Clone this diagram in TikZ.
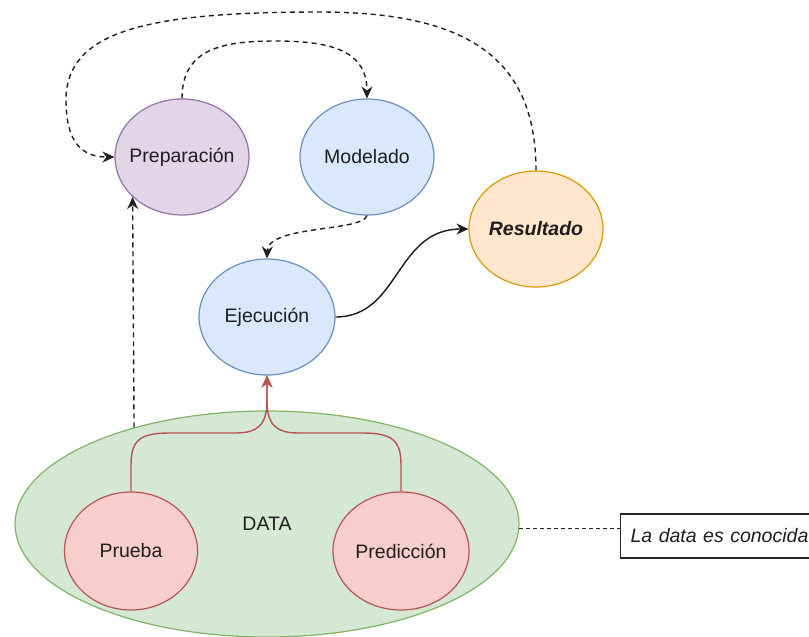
\documentclass[tikz,border=0pt]{standalone}
\usepackage{fontspec}
\setmainfont{Liberation Sans}
\usetikzlibrary{arrows.meta,shapes.geometric}

\definecolor{prepFill}{HTML}{E1D5E7}
\definecolor{prepLine}{HTML}{9673A6}
\definecolor{blueFill}{HTML}{DAE8FC}
\definecolor{blueLine}{HTML}{6C8EBF}
\definecolor{orangeFill}{HTML}{FFE6CC}
\definecolor{orangeLine}{HTML}{D79B00}
\definecolor{greenFill}{HTML}{D5E8D4}
\definecolor{greenLine}{HTML}{82B366}
\definecolor{redFill}{HTML}{F8CECC}
\definecolor{redLine}{HTML}{B85450}
\definecolor{txt}{HTML}{1E1E1E}

% zero-width label so the ellipse keeps its given size
\newcommand{\zerowidth}[1]{\makebox[0pt][c]{#1}}

\begin{document}
\begin{tikzpicture}[x=1pt, y=-1pt,
  font=\fontsize{19.5}{23}\selectfont,
  bubble/.style={ellipse, minimum width=134pt, minimum height=116pt,
    inner sep=0pt, line width=1.2pt, text=txt},
  tip/.style={-{Stealth[length=12pt, width=11pt, inset=4pt]}},
  dashedge/.style={tip, line width=1.4pt, dash pattern=on 5pt off 4pt, draw=black!88},
  solidedge/.style={tip, line width=1.4pt, draw=black!90},
  rededge/.style={tip, line width=1.4pt, draw=redLine}
]
\useasboundingbox (0,0) rectangle (809,637);

% data container and its two parts
\node[bubble, minimum width=504pt, minimum height=226pt, fill=greenFill, draw=greenLine] (data) at (267,524) {\zerowidth{DATA}};
\node[bubble, minimum width=133pt, minimum height=118pt, fill=redFill, draw=redLine] (prueba) at (131,551) {\zerowidth{Prueba}};
\node[bubble, minimum width=136pt, minimum height=118pt, fill=redFill, draw=redLine] (pred) at (401,551) {\zerowidth{Predicción}};

% process stages
\node[bubble, fill=prepFill, draw=prepLine] (prep) at (182,157) {\zerowidth{Preparación}};
\node[bubble, fill=blueFill, draw=blueLine] (model) at (367,157) {\zerowidth{Modelado}};
\node[bubble, minimum width=136pt, fill=blueFill, draw=blueLine] (exec) at (267,317) {\zerowidth{Ejecución}};
\node[bubble, fill=orangeFill, draw=orangeLine, font=\fontsize{19.5}{23}\selectfont\bfseries\itshape] (result) at (536,229) {\zerowidth{Resultado}};

% side note
\node[draw=black!85, line width=1.2pt, rectangle, anchor=west, minimum height=44pt,
  text width=200pt, align=left, inner xsep=10pt, text=txt,
  font=\fontsize{19.5}{23}\selectfont\itshape] (note) at (620,536) {La data es conocida};

% connectors
\draw[dashedge] (prep.north) .. controls (182,50) and (220,41) .. (275,41)
  .. controls (330,41) and (367,50) .. (model.north);
\draw[dashedge] (result.north) .. controls (536,60) and (470,12) .. (320,12)
  .. controls (150,12) and (66,30) .. (66,100)
  .. controls (66,140) and (80,157) .. (prep.west);
\draw[dashedge] (model.south) .. controls (362,232) and (268,225) .. (exec.north);
\draw[solidedge] (exec.east) .. controls (400,317) and (395,229) .. (result.west);
\draw[dashedge] (data.144.4) -- (prep.219.2);

\draw[rededge] (prueba.north) -- (131,465) .. controls (131,440) and (140,433) .. (170,433)
  -- (235,433) .. controls (258,433) and (267,425) .. (267,400) -- (exec.south);
\draw[rededge] (pred.north) -- (401,465) .. controls (401,440) and (392,433) .. (362,433)
  -- (299,433) .. controls (276,433) and (267,425) .. (267,400) -- (exec.south);

\draw[line width=1.2pt, dash pattern=on 4pt off 3pt, draw=black!85] (data.-1.8) -- (data.-1.8 -| note.west);
\end{tikzpicture}
\end{document}
